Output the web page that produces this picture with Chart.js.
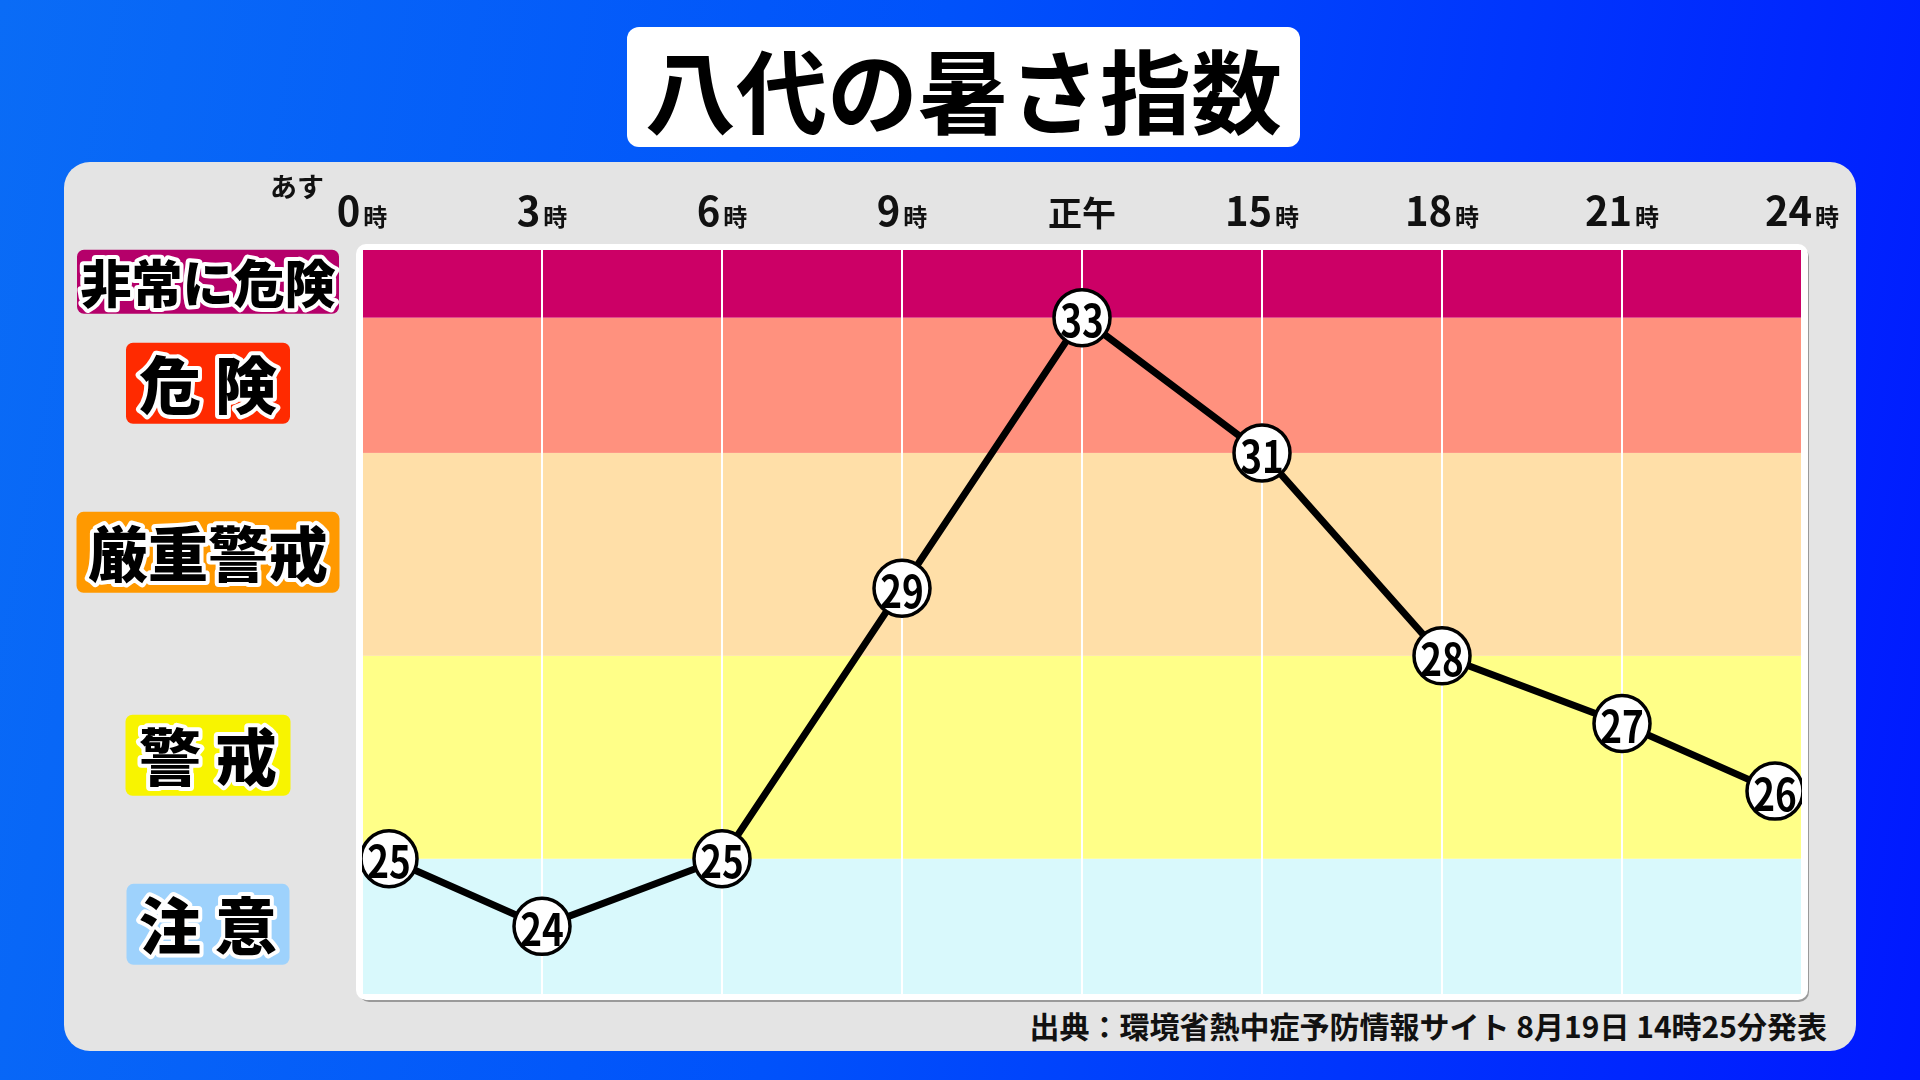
<!DOCTYPE html>
<html lang="ja">
<head>
<meta charset="utf-8">
<title>八代の暑さ指数</title>
<script src="https://cdn.jsdelivr.net/npm/chart.js@4.4.1/dist/chart.umd.min.js"></script>
<style>
  html, body { margin: 0; padding: 0; }
  body {
    width: 1920px; height: 1080px; overflow: hidden; position: relative;
    background: linear-gradient(100deg, #0a6cf6 0%, #0052fb 45%, #0018ff 100%);
    font-family: "Noto Sans CJK JP", "Noto Sans", sans-serif;
  }
  #panel {
    position: absolute; left: 64px; top: 162px; width: 1792px; height: 889px;
    background: #e4e4e4; border-radius: 26px;
  }
  #title {
    position: absolute; left: 627px; top: 27px; width: 673px; height: 120px;
    background: #fff; border-radius: 12px;
    font-size: 91px; font-weight: 700; line-height: 120px; text-align: center;
    color: #000;
  }
  #source {
    position: absolute; right: 93px; top: 1003px;
    font-size: 30px; font-weight: 700; color: #111; white-space: nowrap;
  }
  canvas { position: absolute; left: 0; top: 0; }
</style>
</head>
<body>
<div id="panel"></div>
<div id="title">八代の暑さ指数</div>
<div id="source">出典：環境省熱中症予防情報サイト 8月19日 14時25分発表</div>
<canvas id="wbgtChart" width="1920" height="1080"></canvas>
<script>
  "use strict";

  // Data
  const hours = [0, 3, 6, 9, 12, 15, 18, 21, 24];
  const hourLabels = ['0', '3', '6', '9', '正午', '15', '18', '21', '24'];
  const wbgt = [25, 24, 25, 29, 33, 31, 28, 27, 26];

  // Bands (lower, upper, name)
  const bandNames = ['注意', '警戒', '厳重警戒', '危険', '非常に危険'];
  const bandLabels = ['注 意', '警 戒', '厳重警戒', '危 険', '非常に危険'];
  const bandFrom = [23, 25, 28, 31, 33];
  const bandTo = [25, 28, 31, 33, 34];
  const bandColors = ['#d9f9fc', '#ffff88', '#ffdfa8', '#ff917e', '#cc0066'];
  const badgeColors = ['#9ed2fc', '#f8f400', '#ff9900', '#ff2a00', '#b5006a'];
  const badgeWidths = [163, 165, 263, 164, 262];
  const badgeFont = [62, 62, 60, 62, 51];

  // the first and last points sit a little inside the frame
  const edgeInset = 0.45;
  const points = hours.map(function (h, i) {
    let x = h;
    if (h === hours[0]) x = h + edgeInset;
    if (h === hours[hours.length - 1]) x = h - edgeInset;
    return { x: x, y: wbgt[i] };
  });

  const FONT = '"Noto Sans CJK JP", "Noto Sans", sans-serif';

  function roundRect(ctx, x, y, w, h, r) {
    ctx.beginPath();
    ctx.moveTo(x + r, y);
    ctx.arcTo(x + w, y, x + w, y + h, r);
    ctx.arcTo(x + w, y + h, x, y + h, r);
    ctx.arcTo(x, y + h, x, y, r);
    ctx.arcTo(x, y, x + w, y, r);
    ctx.closePath();
  }

  // Frame, bands and level badges
  const bandPlugin = {
    id: 'bands',
    beforeDraw: function (chart) {
      const ctx = chart.ctx;
      const a = chart.chartArea;
      const ys = chart.scales.y;
      ctx.save();
      // shadow + white frame
      ctx.fillStyle = '#9a9a9a';
      roundRect(ctx, a.left - 3, a.top - 3, a.right - a.left + 10, a.bottom - a.top + 11, 10);
      ctx.fill();
      ctx.fillStyle = '#ffffff';
      roundRect(ctx, a.left - 6, a.top - 6, a.right - a.left + 12, a.bottom - a.top + 12, 10);
      ctx.fill();

      bandFrom.forEach(function (lo, i) {
        const yTop = ys.getPixelForValue(bandTo[i]);
        const yBot = ys.getPixelForValue(lo);
        ctx.fillStyle = bandColors[i];
        ctx.fillRect(a.left, yTop, a.right - a.left, yBot - yTop);

        // badge on the left
        const cy = (yTop + yBot) / 2 - 2;
        const w = badgeWidths[i];
        const h = i === 4 ? 64 : 81;
        const cx = 208;
        ctx.fillStyle = badgeColors[i];
        roundRect(ctx, cx - w / 2, cy - h / 2, w, h, 7);
        ctx.fill();
        ctx.font = '900 ' + badgeFont[i] + 'px ' + FONT;
        ctx.textAlign = 'center';
        ctx.textBaseline = 'middle';
        ctx.lineJoin = 'round';
        ctx.lineWidth = 8;
        ctx.strokeStyle = '#ffffff';
        ctx.strokeText(bandLabels[i], cx, cy + 2);
        ctx.fillStyle = '#000000';
        ctx.fillText(bandLabels[i], cx, cy + 2);
      });
      ctx.restore();
    },
    afterDraw: function (chart) {
      const ctx = chart.ctx;
      const xs = chart.scales.x;
      const a = chart.chartArea;
      ctx.save();
      ctx.fillStyle = '#111';
      ctx.textBaseline = 'alphabetic';
      hours.forEach(function (h, i) {
        const px = xs.getPixelForValue(h);
        const base = a.top - 24;
        if (hourLabels[i] === '正午') {
          ctx.font = '700 34px ' + FONT;
          ctx.textAlign = 'center';
          ctx.fillText(hourLabels[i], px, base);
          return;
        }
        ctx.font = '700 40px ' + FONT;
        const wNum = ctx.measureText(hourLabels[i]).width;
        ctx.font = '700 24px ' + FONT;
        const wUnit = ctx.measureText('時').width;
        const start = px - (wNum + 3 + wUnit) / 2;
        ctx.textAlign = 'left';
        ctx.font = '700 40px ' + FONT;
        ctx.fillText(hourLabels[i], start, base);
        ctx.font = '700 24px ' + FONT;
        ctx.fillText('時', start + wNum + 3, base);
      });
      ctx.font = '700 27px ' + FONT;
      ctx.textAlign = 'center';
      ctx.fillText('あす', 297, a.top - 53);
      ctx.restore();
    }
  };

  // Numbers inside the markers (slightly condensed)
  const valuePlugin = {
    id: 'values',
    afterDatasetsDraw: function (chart) {
      const ctx = chart.ctx;
      const meta = chart.getDatasetMeta(0);
      ctx.save();
      ctx.font = '700 44px ' + FONT;
      ctx.textAlign = 'center';
      ctx.textBaseline = 'middle';
      ctx.fillStyle = '#000';
      meta.data.forEach(function (pt, i) {
        ctx.save();
        ctx.translate(pt.x, pt.y + 3);
        ctx.scale(0.84, 1);
        ctx.fillText(String(wbgt[i]), 0, 0);
        ctx.restore();
      });
      ctx.restore();
    }
  };

  const ctx = document.getElementById('wbgtChart').getContext('2d');
  new Chart(ctx, {
    type: 'line',
    data: {
      datasets: [{
        label: '暑さ指数',
        data: points,
        borderColor: '#000',
        borderWidth: 7,
        pointRadius: 28,
        pointBorderWidth: 3.5,
        pointBackgroundColor: '#fff',
        pointBorderColor: '#000',
        tension: 0
      }]
    },
    options: {
      responsive: false,
      animation: false,
      devicePixelRatio: 1,
      layout: {
        padding: { left: 362, top: 250, right: 118, bottom: 86 }
      },
      plugins: {
        legend: { display: false },
        tooltip: { enabled: false }
      },
      scales: {
        x: {
          type: 'linear',
          min: 0,
          max: 24,
          position: 'top',
          ticks: { display: false, stepSize: 3 },
          grid: { color: '#ffffff', lineWidth: 2, drawTicks: false },
          border: { display: false }
        },
        y: {
          display: false,
          min: 23,
          max: 34
        }
      }
    },
    plugins: [bandPlugin, valuePlugin]
  });
</script>
</body>
</html>
